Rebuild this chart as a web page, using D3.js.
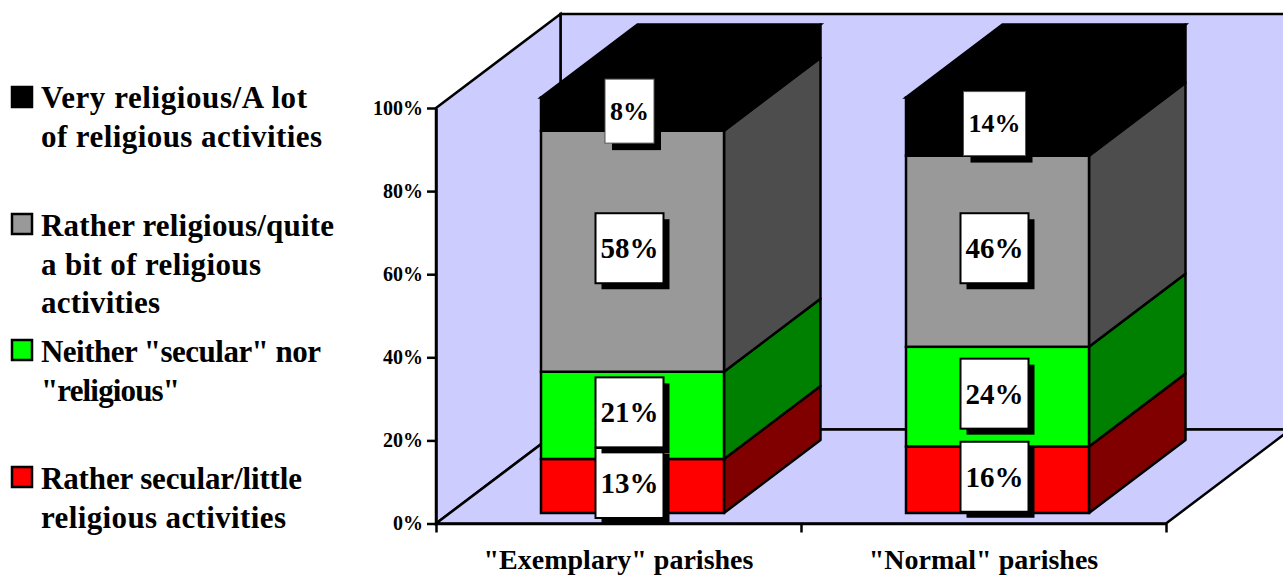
<!DOCTYPE html>
<html>
<head>
<meta charset="utf-8">
<script src="https://cdn.jsdelivr.net/npm/d3@7"></script>
<style>
  body { margin: 0; background: #fff; }
  svg { display: block; }
  text { font-family: "Liberation Serif", serif; font-weight: bold; fill: #000; }
</style>
</head>
<body>
<div id="chart"></div>
<script>
const categories = ['"Exemplary" parishes', '"Normal" parishes'];
const seriesNames = ['secular', 'neither', 'rather', 'very'];
const secular = [13, 16];
const neither = [21, 24];
const rather = [58, 46];
const very = [8, 14];
const yTicks = [0, 20, 40, 60, 80, 100];
const legendLabels = [
  ['Very religious/A lot', 'of religious activities'],
  ['Rather religious/quite', 'a bit of religious', 'activities'],
  ['Neither "secular" nor', '"religious"'],
  ['Rather secular/little', 'religious activities']
];
const legendSeries = ['very', 'rather', 'neither', 'secular'];

const frontColor = { secular: '#ff0000', neither: '#00ff00', rather: '#999999', very: '#000000' };
const sideColor = { secular: '#800000', neither: '#008000', rather: '#4d4d4d', very: '#000000' };

const width = 1283, height = 575;
const plot = { left: 436, right: 1166, top: 108, bottom: 523.5 };
const wall = { dx: 124.5, dy: -94 };
const bar = { inset: 105, width: 183, dx: 96.5, dy: -73, lift: 10.5 };
const legendLayout = {
  swatchTop: [87, 214, 340, 467],
  baseline: [108, 236, 362, 489],
  lineHeight: 38.5,
  // the original face runs wider than Liberation, so lines are fitted to the measured widths
  lineWidth: [[266, 281], [293, 220, 119], [280, 139], [261, 245]]
};
const STROKE = 2.5;

const rows = categories.map((c, i) => ({ category: c, secular: secular[i], neither: neither[i], rather: rather[i], very: very[i] }));
const stacked = d3.stack().keys(seriesNames)(rows);

const svg = d3.select('#chart').append('svg').attr('width', width).attr('height', height);

const x = d3.scaleBand().domain(categories).range([plot.left, plot.right]);
const y = d3.scaleLinear().domain([0, 100]).range([plot.bottom, plot.top]);
const xEdges = d3.scaleLinear().domain([0, categories.length]).range([plot.left, plot.right]);

const pts = arr => arr.map(p => p.join(',')).join(' ');

// walls and floor
svg.append('polygon').attr('fill', '#ccccff').attr('stroke', '#000').attr('stroke-width', STROKE)
  .attr('points', pts([
    [plot.left + wall.dx, plot.top + wall.dy], [plot.right + wall.dx, plot.top + wall.dy],
    [plot.right + wall.dx, plot.bottom + wall.dy], [plot.left + wall.dx, plot.bottom + wall.dy]
  ]));
svg.append('polygon').attr('fill', '#ccccff').attr('stroke', '#000').attr('stroke-width', STROKE)
  .attr('points', pts([
    [plot.left, plot.top], [plot.left + wall.dx, plot.top + wall.dy],
    [plot.left + wall.dx, plot.bottom + wall.dy], [plot.left, plot.bottom]
  ]));
svg.append('polygon').attr('fill', '#ccccff').attr('stroke', '#000').attr('stroke-width', STROKE)
  .attr('points', pts([
    [plot.left, plot.bottom], [plot.left + wall.dx, plot.bottom + wall.dy],
    [plot.right + wall.dx, plot.bottom + wall.dy], [plot.right, plot.bottom]
  ]));

// bars, one stack per category, each segment has a front and a side face
stacked.forEach(layer => {
  const g = svg.append('g').attr('class', 'layer-' + layer.key);
  layer.forEach(d => {
    const left = x(d.data.category) + bar.inset;
    const right = left + bar.width;
    const y0 = y(d[0]) - bar.lift;
    const y1 = y(d[1]) - bar.lift;
    g.append('polygon').attr('fill', sideColor[layer.key]).attr('stroke', '#000').attr('stroke-width', STROKE)
      .attr('stroke-linejoin', 'round')
      .attr('points', pts([[right, y0], [right + bar.dx, y0 + bar.dy], [right + bar.dx, y1 + bar.dy], [right, y1]]));
    g.append('rect').attr('fill', frontColor[layer.key]).attr('stroke', '#000').attr('stroke-width', STROKE)
      .attr('x', left).attr('y', y1).attr('width', bar.width).attr('height', y0 - y1);
    if (layer.key === 'very') {
      g.append('polygon').attr('fill', '#000').attr('stroke', '#000').attr('stroke-width', STROKE)
        .attr('points', pts([[left, y1], [left + bar.dx, y1 + bar.dy], [right + bar.dx, y1 + bar.dy], [right, y1]]));
    }
  });
});

// axes
const yAxis = svg.append('g').attr('transform', `translate(${plot.left},0)`)
  .call(d3.axisLeft(y).tickValues(yTicks).tickFormat(d => d + '%').tickSize(9).tickSizeOuter(0).tickPadding(4));
yAxis.selectAll('text').style('font-size', '20px').style('font-family', '"Liberation Serif", serif');
yAxis.selectAll('line').attr('stroke', '#000').attr('stroke-width', STROKE);
yAxis.select('.domain').attr('stroke', '#000').attr('stroke-width', STROKE);

const xTicks = svg.append('g').attr('transform', `translate(0,${plot.bottom})`)
  .call(d3.axisBottom(xEdges).ticks(categories.length).tickFormat('').tickSize(9).tickSizeOuter(0));
xTicks.selectAll('line').attr('stroke', '#000').attr('stroke-width', STROKE);
xTicks.select('.domain').attr('stroke', '#000').attr('stroke-width', STROKE);

const xLabels = svg.append('g').attr('transform', `translate(0,${plot.bottom})`)
  .call(d3.axisBottom(x).tickSize(0).tickPadding(26));
xLabels.select('.domain').remove();
xLabels.selectAll('text').style('font-size', '28px').style('font-family', '"Liberation Serif", serif');

// value labels with drop shadow
stacked.forEach(layer => {
  const small = layer.key === 'very';
  const fontSize = small ? 26 : 29;
  const pad = small ? 5 : 5;
  const boxH = small ? 64 : 70;
  const drop = small ? 7 : 6;
  layer.forEach(d => {
    const cx = x(d.data.category) + bar.inset + bar.width / 2 - 3;
    const cy = (y(d[0]) + y(d[1])) / 2 - bar.lift - 3;
    const g = svg.append('g');
    const shadow = g.append('rect').attr('fill', '#000');
    const box = g.append('rect').attr('fill', '#fff').attr('stroke', small ? '#555' : '#000').attr('stroke-width', small ? 1 : 2);
    const label = g.append('text').attr('x', cx).attr('y', cy).attr('text-anchor', 'middle').attr('dy', '0.34em')
      .style('font-size', fontSize + 'px').text((d[1] - d[0]) + '%');
    const w = label.node().getComputedTextLength() + pad * 2;
    box.attr('x', cx - w / 2).attr('y', cy - boxH / 2).attr('width', w).attr('height', boxH);
    shadow.attr('x', cx - w / 2 + drop).attr('y', cy - boxH / 2 + drop).attr('width', w).attr('height', boxH);
  });
});

// legend
legendLabels.forEach((lines, i) => {
  const g = svg.append('g');
  g.append('rect').attr('x', 12).attr('y', legendLayout.swatchTop[i]).attr('width', 20).attr('height', 20)
    .attr('fill', frontColor[legendSeries[i]]).attr('stroke', '#000').attr('stroke-width', STROKE);
  lines.forEach((line, j) => {
    g.append('text').attr('x', 41).attr('y', legendLayout.baseline[i] + j * legendLayout.lineHeight)
      .attr('textLength', legendLayout.lineWidth[i][j]).attr('lengthAdjust', 'spacing')
      .style('font-size', '31px').text(line);
  });
});
</script>
</body>
</html>
